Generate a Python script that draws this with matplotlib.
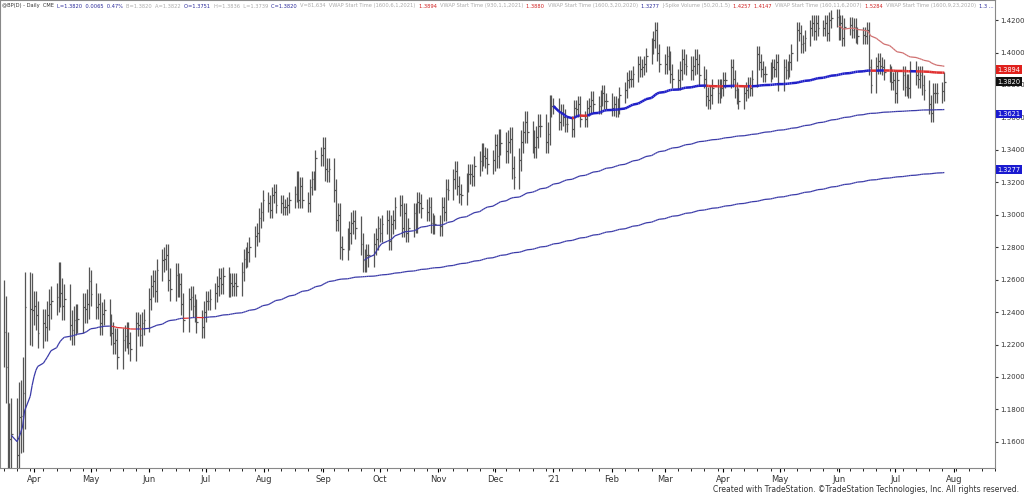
import numpy as np
import pandas as pd
import matplotlib
matplotlib.use('Agg')
import matplotlib.pyplot as plt
import matplotlib.dates as mdates

# daily closes, one row per week, starting Mon 16 Mar 2020
weekly_closes = [
    [1.228, 1.206, 1.150, 1.162, 1.165], [1.152, 1.175, 1.176, 1.190, 1.243], [1.242, 1.241, 1.244, 1.238, 1.227],
    [1.233, 1.231, 1.238, 1.245, 1.247], [1.249, 1.262, 1.252, 1.244, 1.248], [1.232, 1.229, 1.235, 1.236, 1.236],
    [1.243, 1.242, 1.245, 1.259, 1.251], [1.243, 1.245, 1.233, 1.239, 1.241], [1.232, 1.227, 1.221, 1.223, 1.212],
    [1.223, 1.225, 1.227, 1.221, 1.217], [1.233, 1.232, 1.226, 1.233, 1.235], [1.248, 1.256, 1.259, 1.253, 1.266],
    [1.272, 1.273, 1.275, 1.260, 1.254], [1.263, 1.256, 1.257, 1.245, 1.235], [1.248, 1.249, 1.244, 1.241, 1.234],
    [1.231, 1.240, 1.247, 1.247, 1.248], [1.252, 1.256, 1.261, 1.257, 1.262], [1.255, 1.258, 1.256, 1.258, 1.256],
    [1.265, 1.273, 1.274, 1.277, 1.280], [1.287, 1.289, 1.298, 1.302, 1.309], [1.307, 1.303, 1.312, 1.314, 1.306],
    [1.307, 1.305, 1.305, 1.306, 1.309], [1.313, 1.322, 1.309, 1.318, 1.309], [1.307, 1.317, 1.322, 1.320, 1.335],
    [1.337, 1.341, 1.328, 1.327, 1.328], [1.315, 1.297, 1.300, 1.280, 1.279], [1.285, 1.289, 1.295, 1.296, 1.292],
    [1.282, 1.272, 1.272, 1.275, 1.275], [1.282, 1.285, 1.292, 1.289, 1.294], [1.297, 1.284, 1.294, 1.297, 1.305],
    [1.306, 1.292, 1.301, 1.289, 1.292], [1.301, 1.295, 1.308, 1.307, 1.304], [1.302, 1.305, 1.295, 1.294, 1.294],
    [1.293, 1.305, 1.302, 1.316, 1.315], [1.322, 1.327, 1.318, 1.313, 1.312], [1.320, 1.325, 1.325, 1.324, 1.330],
    [1.333, 1.338, 1.336, 1.335, 1.331], [1.334, 1.343, 1.336, 1.346, 1.344], [1.339, 1.345, 1.347, 1.329, 1.323],
    [1.334, 1.345, 1.351, 1.357, 1.351], [1.345, 1.342, 1.348, 1.355, 1.355], [1.345, 1.350, 1.367, 1.367, 1.367],
    [1.357, 1.363, 1.360, 1.356, 1.356], [1.353, 1.366, 1.365, 1.368, 1.359], [1.359, 1.366, 1.367, 1.371, 1.368],
    [1.367, 1.372, 1.375, 1.370, 1.370], [1.366, 1.368, 1.365, 1.367, 1.374], [1.377, 1.383, 1.384, 1.384, 1.387],
    [1.393, 1.390, 1.391, 1.393, 1.398], [1.404, 1.408, 1.414, 1.400, 1.393], [1.393, 1.398, 1.395, 1.387, 1.384],
    [1.383, 1.389, 1.396, 1.393, 1.392], [1.389, 1.392, 1.396, 1.393, 1.386], [1.384, 1.373, 1.371, 1.374, 1.378],
    [1.375, 1.378, 1.378, 1.383, 1.383], [1.391, 1.384, 1.377, 1.373, 1.370], [1.375, 1.377, 1.380, 1.378, 1.384],
    [1.399, 1.394, 1.390, 1.387, 1.387], [1.389, 1.391, 1.390, 1.394, 1.381], [1.391, 1.389, 1.390, 1.394, 1.400],
    [1.414, 1.412, 1.405, 1.406, 1.409], [1.415, 1.418, 1.413, 1.418, 1.415], [1.415, 1.418, 1.412, 1.420, 1.421],
    [1.422, 1.413, 1.418, 1.409, 1.416], [1.417, 1.414, 1.416, 1.411, 1.410], [1.411, 1.410, 1.414, 1.391, 1.380],
    [1.392, 1.395, 1.392, 1.391, 1.388], [1.387, 1.382, 1.383, 1.375, 1.383], [1.386, 1.379, 1.381, 1.378, 1.389],
    [1.386, 1.384, 1.386, 1.380, 1.377], [1.368, 1.363, 1.375, 1.375, 1.375], [1.376, 1.382],
]
# typical extra wick beyond open/close, per month (Mar 2020 .. Jul 2021)
month_wick = [0.022, 0.009, 0.007, 0.007, 0.006, 0.005, 0.007, 0.006, 0.006, 0.007,
              0.005, 0.005, 0.006, 0.005, 0.005, 0.005, 0.006]

vwap_starts = ['2020-03-20', '2020-09-23', '2021-01-01', '2021-06-01']
vwap_widths = [0.9, 0.9, 1.8, 0.9]
vwap_colors = ['#3a3aa8', '#3a3aa8', '#1f1fc8', '#d07070']
axis_labels = [(1.3894, '#e0201c'), (1.3820, '#111111'), (1.3621, '#1a1ad0'), (1.3277, '#1a1ad0')]

closes = np.array([c for w in weekly_closes for c in w])
dates = pd.bdate_range('2020-03-16', periods=len(closes))
opens = np.r_[closes[0] + 0.01, closes[:-1]]
midx = (dates.year - 2020) * 12 + dates.month - 3
wick = np.array(month_wick)[midx]
highs = np.maximum(opens, closes) + wick
lows = np.minimum(opens, closes) - wick
typ = (highs + lows + closes) / 3

fig = plt.figure(figsize=(10.24, 4.95), dpi=100)
ax = fig.add_axes([0.0, 0.055, 0.972, 0.945])
x = mdates.date2num(dates)
ax.vlines(x, lows, highs, color='#555555', lw=0.9)
ax.hlines(closes, x, x + 0.9, color='#555555', lw=0.9)

for s, lw, col in zip(vwap_starts, vwap_widths, vwap_colors):
    m = dates >= pd.Timestamp(s)
    v = np.cumsum(typ[m]) / np.arange(1, m.sum() + 1)
    xs = x[m]
    cs = closes[m]
    for i in range(len(v) - 1):
        c = col
        if col != '#d07070' and cs[i] < v[i] and s != '2020-09-23' and i > 5:
            c = '#e03030'
        ax.plot(xs[i:i + 2], v[i:i + 2], color=c, lw=lw, solid_capstyle='butt')

ax.set_xlim(mdates.date2num(pd.Timestamp('2020-03-14')), mdates.date2num(pd.Timestamp('2021-08-21')))
ax.set_ylim(1.1440, 1.4324)
ax.yaxis.tick_right()
ax.set_yticks(np.arange(1.16, 1.4201, 0.02))
ax.yaxis.set_major_formatter(plt.FuncFormatter(lambda v, p: f'{v:.4f}'))
ax.tick_params(axis='y', labelsize=5, length=2, pad=1.5, colors='#333333')
months = pd.date_range('2020-04-01', '2021-08-01', freq='MS')
ax.set_xticks(mdates.date2num(months))
ax.set_xticklabels(["'21" if d.month == 1 else d.strftime('%b') for d in months], fontsize=6, color='#333333')
ax.set_xticks(mdates.date2num(pd.date_range('2020-03-16', '2021-08-23', freq='W-MON')), minor=True)
ax.tick_params(axis='x', length=3, pad=2)
ax.tick_params(axis='x', which='minor', length=2)
for sp in ax.spines.values():
    sp.set_color('#888888')
    sp.set_linewidth(0.8)

for val, col in axis_labels:
    ax.text(1.002, val, f'{val:.4f}', transform=ax.get_yaxis_transform(), fontsize=4.8, color='white',
            va='center', ha='left', bbox=dict(boxstyle='square,pad=0.2', fc=col, ec='none'))

header = [('@BP(D) - Daily  CME  ', '#333333'), ('L=1.3820  0.0065  0.47%  ', '#2a2a9a'),
          ('B=1.3820  A=1.3822  ', '#aaaaaa'), ('O=1.3751  ', '#2a2a9a'), ('H=1.3836  L=1.3739  ', '#aaaaaa'),
          ('C=1.3820  ', '#2a2a9a'), ('V=81,634  VWAP Start Time (1600,6,1,2021)  ', '#aaaaaa'),
          ('1.3894  ', '#d02020'), ('VWAP Start Time (930,1,1,2021)  ', '#aaaaaa'), ('1.3880  ', '#d02020'),
          ('VWAP Start Time (1600,3,20,2020)  ', '#aaaaaa'), ('1.3277  ', '#2a2a9a'),
          ('J-Spike Volume (50,20,1.5)  ', '#aaaaaa'), ('1.4257  1.4147  ', '#d02020'),
          ('VWAP Start Time (160,11,6,2007)  ', '#aaaaaa'), ('1.5284  ', '#d02020'),
          ('VWAP Start Time (1600,9,23,2020)  ', '#aaaaaa'), ('1.3 ...', '#2a2a9a')]
xp = 2
for txt, col in header:
    t = fig.text(xp / 1024, 1 - 6 / 495, txt, fontsize=3.7, color=col, va='center', ha='left')
    fig.canvas.draw()
    xp += t.get_window_extent().width
fig.text(0.995, 0.012, 'Created with TradeStation. \u00a9TradeStation Technologies, Inc. All rights reserved.',
         fontsize=5.5, color='#333333', ha='right', va='center')

fig.savefig('out.png', dpi=100, facecolor='white')
